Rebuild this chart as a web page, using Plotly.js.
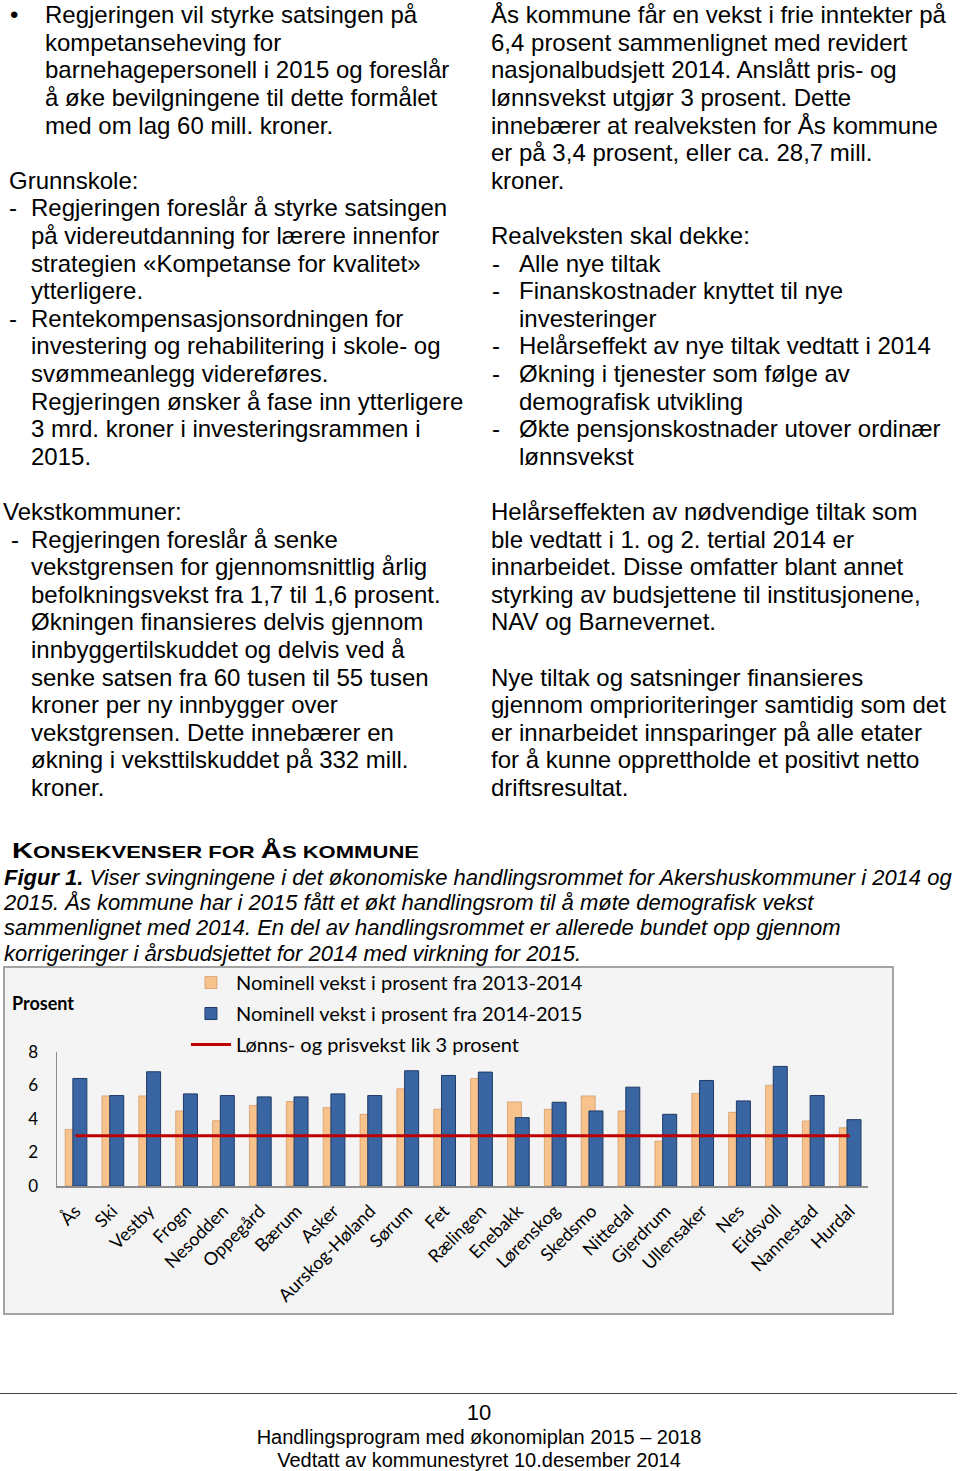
<!DOCTYPE html>
<html><head><meta charset="utf-8">
<script src="https://cdn.plot.ly/plotly-3.0.1.min.js"></script>
<style>
html,body{margin:0;padding:0;background:#fff;}
body{width:960px;height:1471px;position:relative;overflow:hidden;font-family:"Liberation Sans",Arial,sans-serif;color:#000;}
.t{position:absolute;white-space:nowrap;line-height:1.15;}
#box{position:absolute;left:3px;top:966px;width:891px;height:349px;border:2px solid #a3a3a3;box-sizing:border-box;background:#f4f4f4;}
#chart{position:absolute;left:0;top:0;width:887px;height:345px;}
#rule{position:absolute;left:0;top:1393px;width:957px;height:0;border-top:1.5px solid #444;}
</style></head><body>
<div id="page"></div>
<div id="box"><div id="chart"></div></div>
<div id="rule"></div>
<script>
// ---- chart data ----
const kommuner = ["Ås","Ski","Vestby","Frogn","Nesodden","Oppegård","Bærum","Asker","Aurskog-Høland","Sørum","Fet","Rælingen","Enebakk","Lørenskog","Skedsmo","Nittedal","Gjerdrum","Ullensaker","Nes","Eidsvoll","Nannestad","Hurdal"];
const vekst2013_2014 = [3.38,5.38,5.38,4.48,3.90,4.80,5.04,4.68,4.28,5.80,4.58,6.42,5.02,4.58,5.38,4.48,2.68,5.52,4.40,6.02,3.88,3.48];
const vekst2014_2015 = [6.42,5.40,6.82,5.50,5.40,5.32,5.32,5.50,5.40,6.88,6.60,6.80,4.08,5.00,4.48,5.90,4.28,6.30,5.08,7.14,5.40,3.96];
const lonnsPrisvekst = [3,3,3,3,3,3,3,3,3,3,3,3,3,3,3,3,3,3,3,3,3,3];
const yTickVals = [0,2,4,6,8];
const seriesNames = ["Nominell vekst i prosent fra 2013-2014","Nominell vekst i prosent fra 2014-2015","Lønns- og prisvekst lik 3 prosent"];

// ---- page text ----
const FS = 24, PITCH = 27.6, B0 = 23.3;
const leftLines = [
  [0,"•",10],[0,"Regjeringen vil styrke satsingen på",45],
  [1,"kompetanseheving for",45],
  [2,"barnehagepersonell i 2015 og foreslår",45],
  [3,"å øke bevilgningene til dette formålet",45],
  [4,"med om lag 60 mill. kroner.",45],
  [6,"Grunnskole:",9],
  [7,"-",9],[7,"Regjeringen foreslår å styrke satsingen",31],
  [8,"på videreutdanning for lærere innenfor",31],
  [9,"strategien «Kompetanse for kvalitet»",31],
  [10,"ytterligere.",31],
  [11,"-",9],[11,"Rentekompensasjonsordningen for",31],
  [12,"investering og rehabilitering i skole- og",31],
  [13,"svømmeanlegg videreføres.",31],
  [14,"Regjeringen ønsker å fase inn ytterligere",31],
  [15,"3 mrd. kroner i investeringsrammen i",31],
  [16,"2015.",31],
  [18,"Vekstkommuner:",3],
  [19,"-",11],[19,"Regjeringen foreslår å senke",31],
  [20,"vekstgrensen for gjennomsnittlig årlig",31],
  [21,"befolkningsvekst fra 1,7 til 1,6 prosent.",31],
  [22,"Økningen finansieres delvis gjennom",31],
  [23,"innbyggertilskuddet og delvis ved å",31],
  [24,"senke satsen fra 60 tusen til 55 tusen",31],
  [25,"kroner per ny innbygger over",31],
  [26,"vekstgrensen. Dette innebærer en",31],
  [27,"økning i veksttilskuddet på 332 mill.",31],
  [28,"kroner.",31]
];
const rightLines = [
  [0,"Ås kommune får en vekst i frie inntekter på",491],
  [1,"6,4 prosent sammenlignet med revidert",491],
  [2,"nasjonalbudsjett 2014. Anslått pris- og",491],
  [3,"lønnsvekst utgjør 3 prosent. Dette",491],
  [4,"innebærer at realveksten for Ås kommune",491],
  [5,"er på 3,4 prosent, eller ca. 28,7 mill.",491],
  [6,"kroner.",491],
  [8,"Realveksten skal dekke:",491],
  [9,"-",492],[9,"Alle nye tiltak",519],
  [10,"-",492],[10,"Finanskostnader knyttet til nye",519],
  [11,"investeringer",519],
  [12,"-",492],[12,"Helårseffekt av nye tiltak vedtatt i 2014",519],
  [13,"-",492],[13,"Økning i tjenester som følge av",519],
  [14,"demografisk utvikling",519],
  [15,"-",492],[15,"Økte pensjonskostnader utover ordinær",519],
  [16,"lønnsvekst",519],
  [18,"Helårseffekten av nødvendige tiltak som",491],
  [19,"ble vedtatt i 1. og 2. tertial 2014 er",491],
  [20,"innarbeidet. Disse omfatter blant annet",491],
  [21,"styrking av budsjettene til institusjonene,",491],
  [22,"NAV og Barnevernet.",491],
  [24,"Nye tiltak og satsninger finansieres",491],
  [25,"gjennom omprioriteringer samtidig som det",491],
  [26,"er innarbeidet innsparinger på alle etater",491],
  [27,"for å kunne opprettholde et positivt netto",491],
  [28,"driftsresultat.",491]
];
const page = document.getElementById('page');
function line(x, baseline, html, fs, extra){
  const d = document.createElement('div');
  d.className = 't';
  d.style.left = x + 'px';
  d.style.top = (baseline - 0.9215*fs) + 'px';
  d.style.fontSize = fs + 'px';
  if (extra) Object.assign(d.style, extra);
  d.innerHTML = html;
  page.appendChild(d);
  return d;
}
leftLines.concat(rightLines).forEach(l => line(l[2], B0 + l[0]*PITCH, l[1], FS));

// heading (small caps built from two sizes)
const sc = s => '<span style="font-size:17px">' + s + '</span>';
const h = line(12, 859, 'K' + sc('ONSEKVENSER FOR ') + 'Å' + sc('S KOMMUNE'), 22.5, {fontWeight:'bold', transformOrigin:'0 0'});
const hw = h.getBoundingClientRect().width;
h.style.transform = 'scaleX(' + (407/hw) + ')';

// caption
const capLines = [
  "<b>Figur 1.</b> Viser svingningene i det økonomiske handlingsrommet for Akershuskommuner i 2014 og",
  "2015. Ås kommune har i 2015 fått et økt handlingsrom til å møte demografisk vekst",
  "sammenlignet med 2014. En del av handlingsrommet er allerede bundet opp gjennom",
  "korrigeringer i årsbudsjettet for 2014 med virkning for 2015."
];
capLines.forEach((t,i) => line(4, 885 + i*25.3, t, 22, {fontStyle:'italic'}));

// footer
const footer = ["10","Handlingsprogram med økonomiplan 2015 – 2018","Vedtatt av kommunestyret 10.desember 2014"];
const fb = [1420, 1444.5, 1467.5];
footer.forEach((t,i) => line(0, fb[i], t, i===0 ? 22 : 20, {width:'958px', textAlign:'center'}));

// ---- chart ----
const chartFont = "Lato, 'Open Sans', sans-serif";
const traces = [
  {type:'bar', name:seriesNames[0], x:kommuner, y:vekst2013_2014, width:0.38, offset:-0.28,
   marker:{color:'#f8c28c', line:{color:'#c98a52', width:0.6}}, legendgroup:'a'},
  {type:'bar', name:seriesNames[1], x:kommuner, y:vekst2014_2015, width:0.38, offset:-0.07,
   marker:{color:'#3a65a3', line:{color:'#1e3a66', width:1}}, legendgroup:'b'},
  {type:'scatter', mode:'lines', name:seriesNames[2], x:kommuner, y:lonnsPrisvekst,
   line:{color:'#c00000', width:3}, legendgroup:'c'}
];
const layout = {
  width:887, height:345,
  margin:{l:52, r:24, t:84, b:127, pad:0, autoexpand:false},
  paper_bgcolor:'rgba(0,0,0,0)', plot_bgcolor:'rgba(0,0,0,0)',
  barmode:'overlay',
  font:{family:chartFont, size:17, color:'#000'},
  showlegend:true,
  legend:{xref:'container', yref:'paper', x:0.204, xanchor:'left', y:1.664, yanchor:'top', bgcolor:'rgba(0,0,0,0)',
          font:{family:chartFont, size:20, color:'#000'}, traceorder:'grouped', tracegroupgap:2, itemwidth:40},
  xaxis:{type:'category', range:[-0.5, 21.5], tickangle:-45, showline:true, linecolor:'#8c8c8c', linewidth:1.5,
         ticks:'', showgrid:false, zeroline:false, automargin:false, tickfont:{family:chartFont, size:18}, ticklabelstandoff:6},
  yaxis:{range:[0,8], tickvals:yTickVals, showline:true, linecolor:'#8c8c8c', linewidth:1.5, ticks:'', automargin:false,
         showgrid:false, zeroline:false, tickfont:{family:chartFont, size:17}, ticklabelstandoff:14},
  annotations:[{text:'<b>Prosent</b>', xref:'paper', yref:'paper', x:-0.058, y:1.366, xanchor:'left', yanchor:'middle',
                showarrow:false, font:{family:chartFont, size:18, color:'#000'}}]
};
Plotly.newPlot('chart', traces, layout, {displayModeBar:false, staticPlot:true});
</script>
</body></html>
